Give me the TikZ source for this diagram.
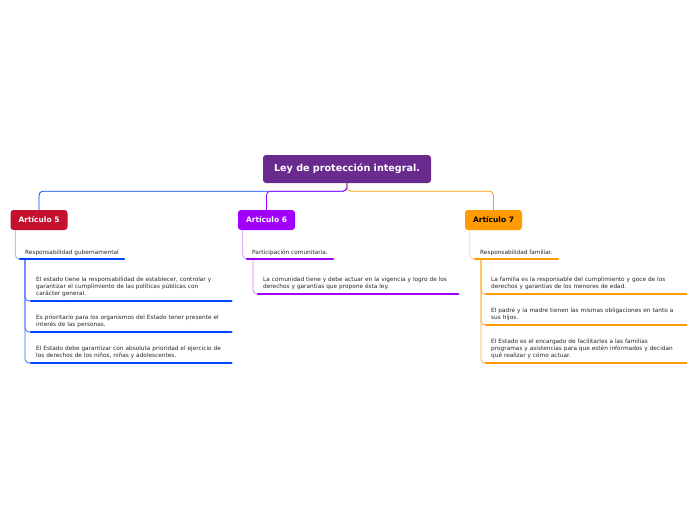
\documentclass[tikz,border=0pt]{standalone}
\usepackage{fontspec}
\setmainfont{DejaVu Sans}
\usepackage{xcolor}
\usepackage{tikz}
\usetikzlibrary{positioning}
\definecolor{rootc}{HTML}{6A2B8E}
\definecolor{redc}{HTML}{C4112F}
\definecolor{violetc}{HTML}{A100FF}
\definecolor{orangec}{HTML}{FF9A00}
\definecolor{bluec}{HTML}{0045FF}
\definecolor{ink}{HTML}{262626}

\begin{document}
\begin{tikzpicture}[
  x=1pt, y=-1pt,
  root/.style={fill=rootc, rounded corners=3pt, text=white, font=\fontsize{9.6}{11}\selectfont\bfseries,
               minimum width=168pt, minimum height=28pt, inner sep=0pt},
  topic/.style={rounded corners=3pt, font=\fontsize{7.5}{8}\selectfont\bfseries,
                minimum width=57pt, minimum height=20pt, inner sep=0pt},
  sub/.style={anchor=south west, inner xsep=5pt, inner ysep=3.5pt, text=ink,
              font=\fontsize{5.8}{7}\selectfont},
  leaf/.style={anchor=south west, inner xsep=5pt, inner ysep=4pt, text=ink, align=left,
               text width=190pt, font=\fontsize{5.8}{7}\selectfont},
  uline/.style={line width=2.6pt, line cap=round},
  link/.style={line width=0.8pt, rounded corners=4pt}
]
  \useasboundingbox (0,0) rectangle (696,520);

  \node[root] (ley) at (347,169) {Ley de protección integral.};
  \node[topic, fill=redc, text=white] (art5) at (39,220) {Artículo 5};
  \node[topic, fill=violetc, text=white] (art6) at (266.5,220) {Artículo 6};
  \node[topic, fill=orangec, text=black] (art7) at (493.5,220) {Artículo 7};

  \draw[link, bluec] (ley.south) -- ++(0,8) -| (art5.north);
  \draw[link, violetc] (ley.south) -- ++(0,8) -| (art6.north);
  \draw[link, orangec] (ley.south) -- ++(0,8) -| (art7.north);

  % articulo 5
  \node[sub] (gob) at (20,259) {Responsabilidad gubernamental};
  \node[leaf] (gob1) at (31,301) {El estado tiene la responsabilidad de establecer, controlar y\\garantizar el cumplimiento de las políticas públicas con\\carácter general.};
  \node[leaf] (gob2) at (31,332) {Es prioritario para los organismos del Estado tener presente el\\interés de las personas.};
  \node[leaf] (gob3) at (31,363) {El Estado debe garantizar con absoluta prioridad el ejercicio de\\los derechos de los niños, niñas y adolescentes.};
  \draw[link, bluec!45] ([xshift=5pt]art5.south west) |- (gob.south west);
  \foreach \n in {gob1,gob2,gob3}
    \draw[link, bluec!80] ([xshift=5pt]gob.south west) |- (\n.south west);
  \foreach \n in {gob,gob1,gob2,gob3}
    \draw[uline, bluec] (\n.south west) -- (\n.south east);

  % articulo 6
  \node[sub] (com) at (247,259) {Participación comunitaria.};
  \node[leaf] (com1) at (258,294) {La comunidad tiene y debe actuar en la vigencia y logro de los\\derechos y garantías que propone ésta ley.};
  \draw[link, violetc!45] ([xshift=5pt]art6.south west) |- (com.south west);
  \draw[link, violetc!50] ([xshift=6pt]com.south west) |- (com1.south west);
  \foreach \n in {com,com1}
    \draw[uline, violetc] (\n.south west) -- (\n.south east);

  % articulo 7
  \node[sub] (fam) at (475,259) {Responsabilidad familiar.};
  \node[leaf] (fam1) at (486,294) {La familia es la responsable del cumplimiento y goce de los\\derechos y garantías de los menores de edad.};
  \node[leaf] (fam2) at (486,325) {El padre y la madre tienen las mismas obligaciones en tanto a\\sus hijos.};
  \node[leaf] (fam3) at (486,363) {El Estado es el encargado de facilitarles a las familias\\programas y asistencias para que estén informados y decidan\\qué realizar y cómo actuar.};
  \draw[link, orangec!40] ([xshift=5pt]art7.south west) |- (fam.south west);
  \foreach \n in {fam1,fam2,fam3}
    \draw[link, orangec!80] ([xshift=6pt]fam.south west) |- (\n.south west);
  \foreach \n in {fam,fam1,fam2,fam3}
    \draw[uline, orangec] (\n.south west) -- (\n.south east);
\end{tikzpicture}
\end{document}
